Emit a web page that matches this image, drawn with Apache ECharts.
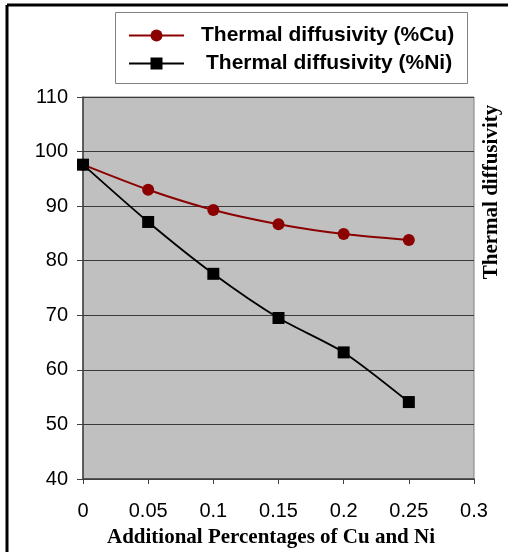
<!DOCTYPE html>
<html>
<head>
<meta charset="utf-8">
<script src="https://cdn.jsdelivr.net/npm/echarts@6/dist/echarts.min.js"></script>
<style>
html,body{margin:0;padding:0;background:#fff;}
#chart{width:508px;height:552px;}
</style>
</head>
<body>
<div id="chart"></div>
<script>
var xValues = [0, 0.05, 0.1, 0.15, 0.2, 0.25];
var cuValues = [97.6, 93.0, 89.3, 86.7, 84.9, 83.8];
var niValues = [97.6, 87.1, 77.6, 69.5, 63.2, 54.1];
var seriesNames = ['Thermal diffusivity (%Cu)', 'Thermal diffusivity (%Ni)'];
var xAxisTitle = 'Additional Percentages of Cu and Ni';
var yAxisTitle = 'Thermal diffusivity';

function pairs(xs, ys){ return xs.map(function(x,i){ return [x, ys[i]]; }); }

var legendText = {fontFamily: 'Liberation Sans, Arial', fontWeight: 'bold', fontSize: 21, color: '#000'};

var chart = echarts.init(document.getElementById('chart'), null, {renderer:'canvas'});
chart.setOption({
  backgroundColor: '#ffffff',
  animation: false,
  grid: {left: 83, right: 34, top: 97, bottom: 73, show: true, backgroundColor: '#c0c0c0', borderColor: '#808080', borderWidth: 1},
  legend: [
    {orient: 'vertical', left: 128, top: 25, itemWidth: 55, itemHeight: 15, padding: 0,
     data: [seriesNames[0]], textStyle: Object.assign({padding: [0,0,0,12]}, legendText)},
    {orient: 'vertical', left: 128, top: 53, itemWidth: 55, itemHeight: 15, padding: 0,
     data: [seriesNames[1]], textStyle: Object.assign({padding: [0,0,0,17]}, legendText)}
  ],
  xAxis: {
    type: 'value', min: 0, max: 0.3, interval: 0.05,
    axisLine: {show: true, onZero: false, lineStyle: {color: '#404040', width: 1.5}},
    axisTick: {show: true, length: 5, lineStyle: {color: '#404040'}},
    splitLine: {show: false},
    axisLabel: {margin: 22, fontFamily: 'Liberation Sans, Arial', fontSize: 20, color: '#000'}
  },
  yAxis: {
    type: 'value', min: 40, max: 110, interval: 10,
    axisLine: {show: true, lineStyle: {color: '#404040', width: 1.5}},
    axisTick: {show: true, length: 6, lineStyle: {color: '#404040'}},
    splitLine: {show: true, lineStyle: {color: '#3a3a3a', width: 1.2}},
    axisLabel: {margin: 15, fontFamily: 'Liberation Sans, Arial', fontSize: 20, color: '#000'}
  },
  graphic: [
    {type: 'line', shape: {x1: 7, y1: 5, x2: 508, y2: 5}, style: {stroke: '#000', lineWidth: 3}, z: 100},
    {type: 'line', shape: {x1: 7, y1: 5, x2: 7, y2: 552}, style: {stroke: '#000', lineWidth: 3}, z: 100},
    {type: 'rect', shape: {x: 115.5, y: 12.5, width: 352, height: 71}, style: {fill: 'none', stroke: '#808080', lineWidth: 1}, z: 100},
    {type: 'text', x: 271, y: 538, style: {text: xAxisTitle, align: 'center', verticalAlign: 'middle', font: 'bold 21px "Liberation Serif", "Times New Roman"', fill: '#000'}},
    {type: 'text', rotation: Math.PI/2, x: 492, y: 192, style: {text: yAxisTitle, align: 'center', verticalAlign: 'middle', font: 'bold 21px "Liberation Serif", "Times New Roman"', fill: '#000'}}
  ],
  series: [
    {name: seriesNames[0], type: 'line', data: pairs(xValues, cuValues), smooth: 0.25,
     symbol: 'circle', symbolSize: 12, itemStyle: {color: '#8b0000'}, lineStyle: {color: '#8b0000', width: 2}},
    {name: seriesNames[1], type: 'line', data: pairs(xValues, niValues), smooth: 0.25,
     symbol: 'rect', symbolSize: 12, itemStyle: {color: '#000'}, lineStyle: {color: '#000', width: 1.8}}
  ]
});
</script>
</body>
</html>
